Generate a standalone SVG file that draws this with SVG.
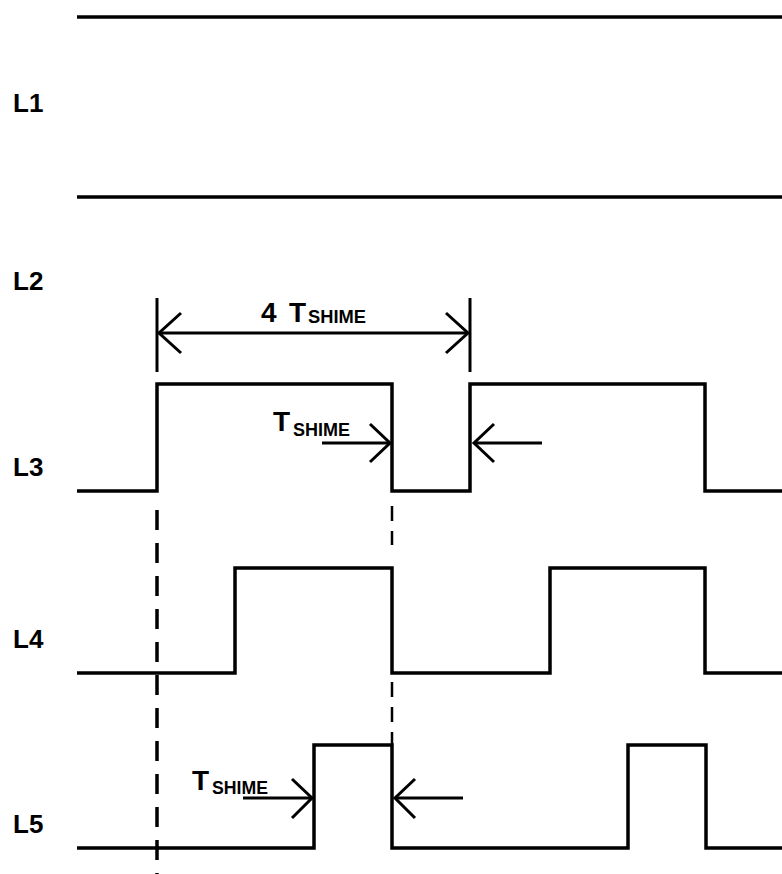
<svg xmlns="http://www.w3.org/2000/svg" width="782" height="874" viewBox="0 0 782 874">
<style>
.w{fill:none;stroke:#000;stroke-width:3.5;stroke-linejoin:miter;stroke-linecap:butt}
.a{fill:none;stroke:#000;stroke-width:3}
.d{fill:none;stroke:#000;stroke-width:3.5;stroke-dasharray:20 13}
.d2{fill:none;stroke:#000;stroke-width:2.5;stroke-dasharray:15 10}
.lb{font-family:"Liberation Sans",Arial,sans-serif;font-size:26px;font-weight:bold;fill:#000}
.t{font-family:"Liberation Sans",Arial,sans-serif;font-size:28px;font-weight:bold;fill:#000}
.s{font-family:"Liberation Sans",Arial,sans-serif;font-size:18px;font-weight:bold;fill:#000}
</style>
<rect width="782" height="874" fill="#fff"/>
<g id="labels">
<text class="lb" x="13" y="112">L1</text>
<text class="lb" x="13" y="290">L2</text>
<text class="lb" x="13" y="476">L3</text>
<text class="lb" x="13" y="648">L4</text>
<text class="lb" x="13" y="833">L5</text>
</g>
<g id="L1">
<line class="w" x1="77" y1="17" x2="782" y2="17"/>
</g>
<g id="L2">
<line class="w" x1="77" y1="197" x2="782" y2="197"/>
</g>
<g id="L3">
<polyline class="w" points="77,491 157,491 157,384 392,384 392,491 470,491 470,384 705,384 705,491 782,491"/>
</g>
<g id="L4">
<polyline class="w" points="77,673 235,673 235,568 392,568 392,673 550,673 550,568 705,568 705,673 782,673"/>
</g>
<g id="L5">
<polyline class="w" points="77,848 314,848 314,745 392,745 392,848 628,848 628,745 706,745 706,848 782,848"/>
</g>
<g id="connectors">
<line class="d" x1="157" y1="510" x2="157" y2="874"/>
<line class="d2" x1="392" y1="506" x2="392" y2="545"/>
<line class="d2" x1="392" y1="682" x2="392" y2="745"/>
<line class="a" x1="157" y1="298" x2="157" y2="372"/>
<line class="a" x1="470" y1="298" x2="470" y2="372"/>
<line class="a" x1="159" y1="333" x2="468" y2="333"/>
<polyline class="a" points="181,313 159,333 181,353"/>
<polyline class="a" points="446,313 468,333 446,353"/>
<line class="a" x1="322" y1="443" x2="390" y2="443"/>
<polyline class="a" points="370,424 390,443 370,462"/>
<line class="a" x1="474" y1="443" x2="542" y2="443"/>
<polyline class="a" points="494,424 474,443 494,462"/>
<line class="a" x1="243" y1="798" x2="312" y2="798"/>
<polyline class="a" points="292,779 312,798 292,818"/>
<line class="a" x1="395" y1="798" x2="463" y2="798"/>
<polyline class="a" points="415,779 395,798 415,818"/>
</g>
<g id="annotations">
<text class="t" x="261" y="322">4</text>
<text class="t" x="289" y="322">T</text>
<text class="s" x="308" y="323" textLength="58" lengthAdjust="spacingAndGlyphs">SHIME</text>
<text class="t" x="273" y="431">T</text>
<text class="s" x="293" y="436" textLength="57" lengthAdjust="spacingAndGlyphs">SHIME</text>
<text class="t" x="192" y="790">T</text>
<text class="s" x="212" y="794" textLength="56" lengthAdjust="spacingAndGlyphs">SHIME</text>
</g>
</svg>
